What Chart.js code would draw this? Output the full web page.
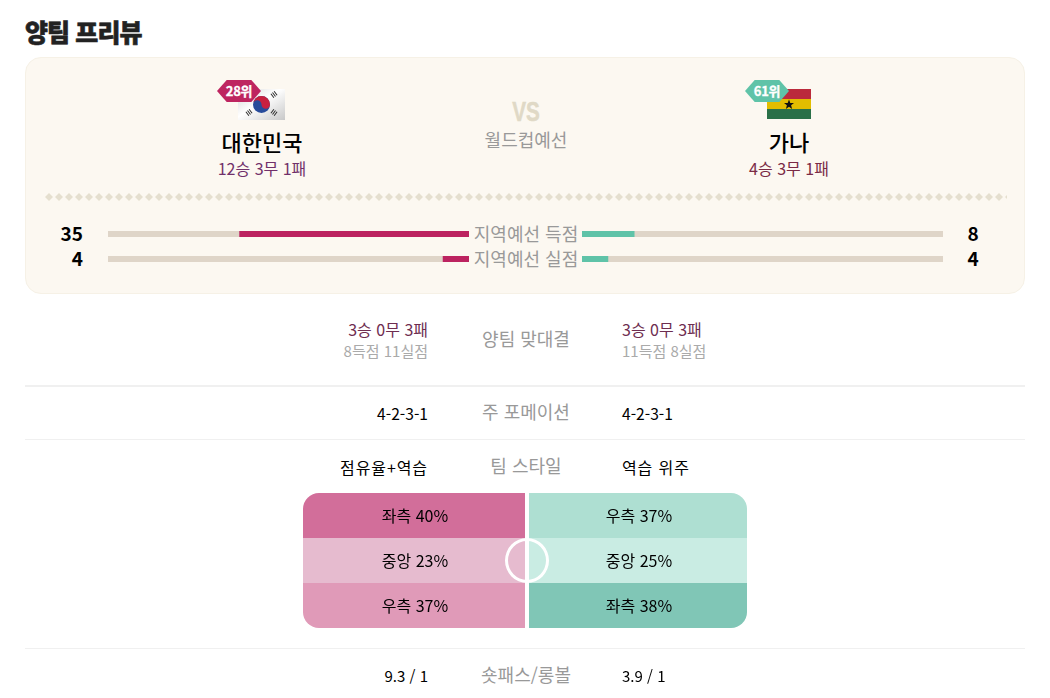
<!DOCTYPE html>
<html lang="ko">
<head>
<meta charset="utf-8">
<title>양팀 프리뷰</title>
<script src="https://cdn.jsdelivr.net/npm/chart.js@4"></script>
<style>
    html, body { margin: 0; padding: 0; background: #fff; }
    body { width: 1050px; height: 698px; position: relative; overflow: hidden;
        font-family: "Noto Sans CJK KR", "Noto Sans", sans-serif; color: #000; }
    .t { position: absolute; white-space: nowrap; line-height: 1; }
    .c { transform: translateX(-50%); }
    .r { transform: translateX(-100%); }
    .grey { color: #999; }
    .card { position: absolute; left: 25px; top: 57px; width: 998px; height: 235px;
        background: #fcf8f1; border: 1px solid #f6f1e6; border-radius: 16px; }
    .dots { position: absolute; left: 45px; top: 193px; width: 962px; height: 8px;
        background-image: url("data:image/svg+xml,%3Csvg xmlns='http://www.w3.org/2000/svg' width='10' height='8'%3E%3Cpath d='M4 0l4 4-4 4-4-4z' fill='%23e5dfcf'/%3E%3C/svg%3E");
        background-repeat: repeat-x; }
    .hr { position: absolute; left: 25px; width: 1000px; background: #f0f0f0; }
    .badge { position: absolute; width: 44px; height: 22px; color: #fff; font-size: 13px;
        font-weight: 700; line-height: 21px; text-align: center; letter-spacing: -0.3px;
        -webkit-text-stroke: 0.3px #fff;
        clip-path: polygon(22% 0, 78% 0, 100% 50%, 78% 100%, 22% 100%, 0 50%); }
    canvas { position: absolute; display: block; }
    .circle { position: absolute; left: 505px; top: 538px; width: 38px; height: 39px;
        border: 3px solid #fff; border-radius: 50%; }
    .cell { position: absolute; font-size: 16px; line-height: 1; white-space: nowrap;
        transform: translate(-50%, -50%); }
</style>
</head>
<body>
<div class="t" style="left:25px;top:19px;font-size:25px;font-weight:900;letter-spacing:-0.9px;color:#222;-webkit-text-stroke:0.6px #222">양팀 프리뷰</div>

<div class="card"></div>
<div class="dots"></div>

<svg style="position:absolute;left:238px;top:89px" width="47" height="31" viewBox="0 0 47 31">
    <defs><linearGradient id="kr" x1="0" y1="0" x2="1" y2="1">
        <stop offset="0" stop-color="#d4d4d4"/><stop offset=".45" stop-color="#fff"/><stop offset="1" stop-color="#c8c8c8"/>
    </linearGradient></defs>
    <rect width="47" height="31" fill="url(#kr)"/>
    <circle cx="23.5" cy="15.5" r="8.5" fill="#274b9b"/>
    <path d="M15 15.5a8.5 8.5 0 0 1 17 0a4.25 4.25 0 0 1-8.5 0a4.25 4.25 0 0 0-8.5 0z" fill="#c8203f"/>
    <g stroke="#2a2a2a" stroke-width="5" stroke-dasharray="1 1">
        <path d="M9 4l4 3M38 4l-4 3M9 25l4-3M38 25l-4-3"/>
    </g>
</svg>
<svg style="position:absolute;left:767px;top:89px" width="44" height="30" viewBox="0 0 44 30">
    <rect width="44" height="10" fill="#bb2a3c"/>
    <rect y="10" width="44" height="10" fill="#e2bd00"/>
    <rect y="20" width="44" height="10" fill="#2a7048"/>
    <path d="M22 10.5l1.3 3.4 3.7.1-2.9 2.3 1 3.6-3.1-2.1-3.1 2.1 1-3.6-2.9-2.3 3.7-.1z" fill="#111"/>
</svg>
<div class="badge" style="left:217px;top:80px;background:#be2560">28위</div>
<div class="badge" style="left:745px;top:80px;background:#5fc3a8">61위</div>

<div class="t c" style="left:262px;top:130px;font-size:22px;font-weight:500;height:24px" id="nameA"></div>
<div class="t c" style="left:789px;top:130px;font-size:22px;font-weight:500;height:24px" id="nameB"></div>
<div class="t c" style="left:262px;top:160px;font-size:16px;color:#71306a" id="recA"></div>
<div class="t c" style="left:789px;top:160px;font-size:16px;color:#7a2a45" id="recB"></div>

<div class="t c" style="left:526px;top:98px;font-size:28px;font-weight:700;color:#e0d9c6;-webkit-text-stroke:0.5px #e0d9c6;transform:translateX(-50%) scaleX(.74);font-family:'Liberation Sans',sans-serif">VS</div>
<div class="t c grey" style="left:526px;top:130px;font-size:18px">월드컵예선</div>

<canvas id="scoreA" style="left:108px;top:219px" width="361" height="45"></canvas>
<canvas id="scoreB" style="left:582px;top:219px" width="361" height="45"></canvas>
<div id="scoreLabels"></div>

<div class="t c grey" style="left:526px;top:329px;font-size:18px">양팀 맞대결</div>
<div class="t r" style="left:428px;top:321px;font-size:16px;color:#6e2d50" id="h2hA"></div>
<div class="t" style="left:622px;top:321px;font-size:16px;color:#6e2d50" id="h2hB"></div>
<div class="t r" style="left:428px;top:343px;font-size:15px;color:#aaa" id="goalsA"></div>
<div class="t" style="left:622px;top:343px;font-size:15px;color:#aaa" id="goalsB"></div>
<div class="hr" style="top:385px;height:2px"></div>

<div class="t c grey" style="left:526px;top:402px;font-size:18px">주 포메이션</div>
<div class="t r" style="left:428px;top:406px;font-size:15.6px" id="formA"></div>
<div class="t" style="left:622px;top:406px;font-size:15.6px" id="formB"></div>
<div class="hr" style="top:439px;height:1px"></div>

<div class="t c grey" style="left:526px;top:456px;font-size:18px">팀 스타일</div>
<div class="t r" style="left:428px;top:459px;font-size:16px;letter-spacing:0.9px" id="styleA"></div>
<div class="t" style="left:622px;top:459px;font-size:16px;letter-spacing:0.9px" id="styleB"></div>

<canvas id="pitchA" style="left:303px;top:493px" width="222" height="135"></canvas>
<canvas id="pitchB" style="left:529px;top:493px" width="218" height="135"></canvas>
<div class="circle"></div>
<div id="cellLabels"></div>

<div class="hr" style="top:648px;height:1px"></div>
<div class="t c grey" style="left:526px;top:665px;font-size:18px">숏패스/롱볼</div>
<div class="t r" style="left:428px;top:668px;font-size:15px" id="passA"></div>
<div class="t" style="left:622px;top:668px;font-size:15px" id="passB"></div>

<script>
const teamNames = ['대한민국', '가나'];
const records = ['12승 3무 1패', '4승 3무 1패'];
const h2hRecords = ['3승 0무 3패', '3승 0무 3패'];
const h2hGoals = ['8득점 11실점', '11득점 8실점'];
const formations = ['4-2-3-1', '4-2-3-1'];
const styles = ['점유율+역습', '역습 위주'];
const passRatios = ['9.3 / 1', '3.9 / 1'];

const scoreRows = ['지역예선 득점', '지역예선 실점'];
const scoreMax = 55;
const scoreTrack = [55, 55];
const scoreHome = [35, 4];
const scoreAway = [8, 4];

const pitchRowsHome = ['좌측', '중앙', '우측'];
const pitchRowsAway = ['우측', '중앙', '좌측'];
const pitchHome = [40, 23, 37];
const pitchAway = [37, 25, 38];
const pitchSpan = [1, 1, 1];

const colorHome = '#bc2360';
const colorAway = '#5fc3a8';
const colorTrack = '#dfd5c8';
const pitchColorsHome = ['#d26e9a', '#e6bbcf', '#e09ab8'];
const pitchColorsAway = ['#aedfd2', '#c9ece3', '#80c6b6'];

Chart.defaults.animation = false;
Chart.defaults.responsive = false;
Chart.defaults.plugins.legend.display = false;
Chart.defaults.plugins.tooltip.enabled = false;

function setText(id, text) {
    document.getElementById(id).textContent = text;
}

function addLabel(parent, cls, style, text) {
    const el = document.createElement('div');
    el.className = cls;
    el.style.cssText = style;
    el.textContent = text;
    document.getElementById(parent).appendChild(el);
}

function makeScoreChart(id, values, color, reversed) {
    const canvas = document.getElementById(id);
    return new Chart(canvas, {
        type: 'bar',
        data: {
            labels: scoreRows,
            datasets: [
                { data: values, backgroundColor: color, order: 1, clip: false, barThickness: 6, inflateAmount: 0 },
                { data: scoreTrack, backgroundColor: colorTrack, order: 2, clip: false, barThickness: 6, inflateAmount: 0 }
            ]
        },
        options: {
            indexAxis: 'y',
            layout: { padding: { top: 15, bottom: 5 } },
            datasets: { bar: { grouped: false } },
            scales: {
                x: { display: false, min: 0, max: scoreMax, reverse: reversed },
                y: { display: false, offset: false }
            }
        }
    });
}

function makePitchChart(id, rows, colors, corners) {
    return new Chart(document.getElementById(id), {
        type: 'bar',
        data: {
            labels: rows,
            datasets: [{
                data: pitchSpan,
                backgroundColor: colors,
                barPercentage: 1,
                categoryPercentage: 1,
                borderSkipped: false,
                inflateAmount: 0,
                borderRadius: ctx => corners[ctx.dataIndex]
            }]
        },
        options: {
            indexAxis: 'y',
            scales: {
                x: { display: false, min: 0, max: 1 },
                y: { display: false }
            }
        }
    });
}

teamNames.forEach((n, i) => setText(i ? 'nameB' : 'nameA', n));
records.forEach((n, i) => setText(i ? 'recB' : 'recA', n));
h2hRecords.forEach((n, i) => setText(i ? 'h2hB' : 'h2hA', n));
h2hGoals.forEach((n, i) => setText(i ? 'goalsB' : 'goalsA', n));
formations.forEach((n, i) => setText(i ? 'formB' : 'formA', n));
styles.forEach((n, i) => setText(i ? 'styleB' : 'styleA', n));
passRatios.forEach((n, i) => setText(i ? 'passB' : 'passA', n));

const scoreChartA = makeScoreChart('scoreA', scoreHome, colorHome, true);
const scoreChartB = makeScoreChart('scoreB', scoreAway, colorAway, false);

// numbers and row names sit on the bar centres
scoreRows.forEach((row, i) => {
    const y = 219 + scoreChartA.scales.y.getPixelForValue(i);
    addLabel('scoreLabels', 't c grey', `left:526px;top:${y - 10}px;font-size:18px`, row);
    addLabel('scoreLabels', 't r', `left:83px;top:${y - 11}px;font-size:19px;font-weight:700`, scoreHome[i]);
    addLabel('scoreLabels', 't c', `left:973px;top:${y - 11}px;font-size:19px;font-weight:700`, scoreAway[i]);
});

const none = { topLeft: 0, topRight: 0, bottomLeft: 0, bottomRight: 0 };
const pitchChartA = makePitchChart('pitchA', pitchRowsHome, pitchColorsHome,
    [{ ...none, topLeft: 16 }, none, { ...none, bottomLeft: 16 }]);
const pitchChartB = makePitchChart('pitchB', pitchRowsAway, pitchColorsAway,
    [{ ...none, topRight: 16 }, none, { ...none, bottomRight: 16 }]);

[[pitchChartA, pitchRowsHome, pitchHome, 304], [pitchChartB, pitchRowsAway, pitchAway, 530]].forEach(([chart, rows, vals, left]) => {
    rows.forEach((row, i) => {
        const x = left + chart.scales.x.getPixelForValue(0.5);
        const y = 492 + chart.scales.y.getPixelForValue(i);
        addLabel('cellLabels', 'cell', `left:${x}px;top:${y}px`, `${row} ${vals[i]}%`);
    });
});
</script>
</body>
</html>
